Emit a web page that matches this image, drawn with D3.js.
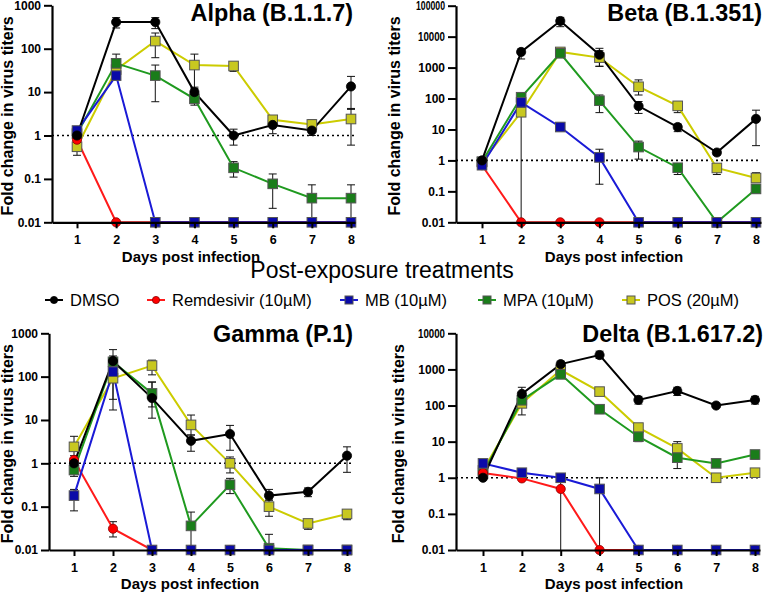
<!DOCTYPE html>
<html><head><meta charset="utf-8">
<script src="https://cdn.jsdelivr.net/npm/d3@7"></script>
<style>body{margin:0;background:#fff}svg{display:block}</style>
</head><body>
<script>
// ---------- DATA ----------
const days = [1,2,3,4,5,6,7,8];
const seriesNames = ["DMSO","Remdesivir (10µM)","MB (10µM)","MPA (10µM)","POS (20µM)"];
const panelTitles = ["Alpha (B.1.1.7)","Beta (B.1.351)","Gamma (P.1)","Delta (B.1.617.2)"];
const yTicksAlpha = [0.01,0.1,1,10,100,1000];
const yTicksBeta  = [0.01,0.1,1,10,100,1000,10000,100000];
const yTicksGamma = [0.01,0.1,1,10,100,1000];
const yTicksDelta = [0.01,0.1,1,10,100,1000,10000];

// Alpha
const alphaDMSO   = [1.0, 410, 410, 10, 1.0, 1.75, 1.3, 13.5];
const alphaDMSOHi = [1.2, 520, 520, 13, 1.4, 2.5, 1.6, 23];
const alphaDMSOLo = [0.85, 300, 290, 7.5, 0.6, 1.1, 1.0, 4.0];
const alphaREM    = [0.8, 0.01, 0.01, 0.01, 0.01, 0.01, 0.01, 0.01];
const alphaMB     = [1.3, 24, 0.01, 0.01, 0.01, 0.01, 0.01, 0.01];
const alphaMBHi   = [1.5, 28, null, null, null, null, null, null];
const alphaMBLo   = [1.1, 20, null, null, null, null, null, null];
const alphaMPA    = [1.1, 46, 24, 7, 0.18, 0.077, 0.036, 0.036];
const alphaMPAHi  = [1.2, 75, 42, 9, 0.25, 0.13, 0.073, 0.073];
const alphaMPALo  = [1.0, 30, 6, 5, 0.11, 0.021, 0.005, 0.005];
const alphaPOS    = [0.55, 33, 150, 42, 40, 2.3, 1.8, 2.4];
const alphaPOSHi  = [0.7, 45, 230, 75, 45, 2.6, 2.3, 4.2];
const alphaPOSLo  = [0.35, 25, 62, 12, 30, 2.0, 1.4, 0.6];

// Beta
const betaDMSO   = [1.0, 3200, 32000, 2600, 57, 12, 1.8, 22];
const betaDMSOHi = [1.2, 4000, 42000, 4200, 80, 15, 2.1, 42];
const betaDMSOLo = [0.85, 1900, 21000, 1100, 33, 8.5, 1.5, 3];
const betaREM    = [0.7, 0.01, 0.01, 0.01, 0.01, 0.01, 0.01, 0.01];
const betaMB     = [0.7, 75, 12, 1.25, 0.01, 0.01, 0.01, 0.01];
const betaMBHi   = [0.8, 90, 14, 2.3, null, null, null, null];
const betaMBLo   = [0.6, 60, 10, 0.17, null, null, null, null];
const betaMPA    = [0.9, 110, 2900, 85, 2.7, 0.58, 0.01, 0.12];
const betaMPAHi  = [1.0, 140, 3500, 130, 4.2, 0.75, null, 0.16];
const betaMPALo  = [0.8, 80, 2300, 35, 1.1, 0.35, null, 0.09];
const betaPOS    = [0.9, 36, 3200, 2100, 240, 58, 0.57, 0.27];
const betaPOSHi  = [1.0, 120, 3600, 3500, 400, 75, 0.75, 0.4];
const betaPOSLo  = [0.8, 0.005, 2400, 1100, 130, 35, 0.35, 0.2];

// Gamma
const gammaDMSO   = [1.0, 230, 32, 3.3, 4.75, 0.18, 0.22, 1.5];
const gammaDMSOHi = [1.2, 420, 75, 4.5, 7.5, 0.25, 0.27, 2.4];
const gammaDMSOLo = [0.8, 130, 11, 1.9, 2.0, 0.15, 0.17, 0.62];
const gammaREM    = [1.2, 0.031, 0.01, 0.01, 0.01, 0.01, 0.01, 0.01];
const gammaREMHi  = [1.3, 0.045, null, null, null, null, null, null];
const gammaREMLo  = [1.1, 0.02, null, null, null, null, null, null];
const gammaMB     = [0.18, 130, 0.01, 0.01, 0.01, 0.01, 0.01, 0.01];
const gammaMBHi   = [0.25, 160, null, null, null, null, null, null];
const gammaMBLo   = [0.08, 30, null, null, null, null, null, null];
const gammaMPA    = [0.7, 220, 41, 0.036, 0.32, 0.011, 0.01, 0.01];
const gammaMPAHi  = [1.0, 300, 75, 0.075, 0.45, 0.023, null, null];
const gammaMPALo  = [0.5, 150, 20, 0.005, 0.2, 0.005, null, null];
const gammaPOS    = [2.4, 92, 180, 7.7, 1.0, 0.1, 0.041, 0.068];
const gammaPOSHi  = [4.2, 120, 240, 13, 1.4, 0.14, 0.05, 0.08];
const gammaPOSLo  = [1.5, 17, 110, 4.5, 0.6, 0.06, 0.03, 0.05];

// Delta
const deltaDMSO   = [1.0, 210, 1400, 2500, 143, 253, 100, 143];
const deltaDMSOHi = [1.1, 320, 1700, 3200, 180, 320, 110, 180];
const deltaDMSOLo = [0.9, 130, 1150, 2000, 110, 190, 90, 110];
const deltaREM    = [1.35, 0.96, 0.49, 0.01, 0.01, 0.01, 0.01, 0.01];
const deltaREMHi  = [1.5, 1.05, 1.0, null, null, null, null, null];
const deltaREMLo  = [1.2, 0.9, 0.005, null, null, null, null, null];
const deltaMB     = [2.5, 1.38, 1.0, 0.49, 0.01, 0.01, 0.01, 0.01];
const deltaMBHi   = [2.8, 1.5, 1.1, 1.0, null, null, null, null];
const deltaMBLo   = [2.2, 1.25, 0.9, 0.005, null, null, null, null];
const deltaMPA    = [1.3, 140, 730, 79, 13.7, 3.6, 2.5, 4.4];
const deltaMPAHi  = [1.5, 170, 900, 100, 18, 5.5, 3.0, 5.5];
const deltaMPALo  = [1.1, 110, 600, 60, 10, 1.8, 2.0, 3.3];
const deltaPOS    = [1.6, 115, 960, 243, 24.5, 6.5, 1.0, 1.38];
const deltaPOSHi  = [1.8, 200, 1100, 300, 30, 10, 1.2, 1.7];
const deltaPOSLo  = [1.4, 55, 800, 190, 18, 4, 0.9, 1.2];

// ---------- STYLE ----------
const FONT = "'Liberation Sans', Arial, Helvetica, sans-serif";
const styles = [
  {line:"#000000", fill:"#000000", stroke:"#000000", shape:"circle"},
  {line:"#ff1a1a", fill:"#ff0000", stroke:"#8a0000", shape:"circle"},
  {line:"#1a1ad6", fill:"#0a0aa8", stroke:"#555555", shape:"square"},
  {line:"#1f9a1f", fill:"#1a7d1a", stroke:"#555555", shape:"square"},
  {line:"#cccc00", fill:"#c8c820", stroke:"#555555", shape:"square"}
];

function mk(v, hi, lo) { return {v, hi: hi || null, lo: lo || null}; }
const panels = [
  {title: panelTitles[0], ticks: yTicksAlpha, x0:52, x1:355, d1:77, d8:351, yTop:5.3, yBot:222.3,
   tickLabelY:244, xLabelY:262, xLabelX:191, yLabelX:13, titleRight:353, titleY:21,
   series:[mk(alphaDMSO,alphaDMSOHi,alphaDMSOLo), mk(alphaREM), mk(alphaMB,alphaMBHi,alphaMBLo), mk(alphaMPA,alphaMPAHi,alphaMPALo), mk(alphaPOS,alphaPOSHi,alphaPOSLo)]},
  {title: panelTitles[1], ticks: yTicksBeta, x0:456, x1:761, d1:482, d8:756, yTop:5.7, yBot:222.3,
   tickLabelY:244, xLabelY:262, xLabelX:614, yLabelX:400, titleRight:762, titleY:21,
   series:[mk(betaDMSO,betaDMSOHi,betaDMSOLo), mk(betaREM), mk(betaMB,betaMBHi,betaMBLo), mk(betaMPA,betaMPAHi,betaMPALo), mk(betaPOS,betaPOSHi,betaPOSLo)]},
  {title: panelTitles[2], ticks: yTicksGamma, x0:49, x1:351, d1:74, d8:347, yTop:333.3, yBot:550,
   tickLabelY:572, xLabelY:589, xLabelX:190, yLabelX:13, titleRight:353, titleY:342,
   series:[mk(gammaDMSO,gammaDMSOHi,gammaDMSOLo), mk(gammaREM,gammaREMHi,gammaREMLo), mk(gammaMB,gammaMBHi,gammaMBLo), mk(gammaMPA,gammaMPAHi,gammaMPALo), mk(gammaPOS,gammaPOSHi,gammaPOSLo)]},
  {title: panelTitles[3], ticks: yTicksDelta, x0:456, x1:760, d1:483, d8:755, yTop:333.3, yBot:550,
   tickLabelY:572, xLabelY:589, xLabelX:614, yLabelX:404, titleRight:763, titleY:342,
   series:[mk(deltaDMSO,deltaDMSOHi,deltaDMSOLo), mk(deltaREM,deltaREMHi,deltaREMLo), mk(deltaMB,deltaMBHi,deltaMBLo), mk(deltaMPA,deltaMPAHi,deltaMPALo), mk(deltaPOS,deltaPOSHi,deltaPOSLo)]}
];

const W = 764, H = 593;
const svg = d3.select("body").append("svg").attr("width", W).attr("height", H)
  .style("font-family", FONT);

function fmt(t){ return String(t); }

const drawOrder = [4,3,1,2,0];

panels.forEach(p => {
  const g = svg.append("g");
  const step = (p.d8 - p.d1) / 7;
  const x = d3.scaleLinear().domain([1 - (p.d1 - p.x0)/step, 8 + (p.x1 - p.d8)/step]).range([p.x0, p.x1]);
  const ymin = 0.01, ymax = p.ticks[p.ticks.length-1];
  const y = d3.scaleLog().domain([ymin, ymax]).range([p.yBot, p.yTop]);
  const yc = v => y(Math.max(ymin, Math.min(ymax, v)));

  // dotted reference line at 1
  g.append("line").attr("x1", p.x0).attr("x2", p.x1).attr("y1", y(1)).attr("y2", y(1))
    .attr("stroke", "#000").attr("stroke-width", 1.6).attr("stroke-dasharray", "2,3");

  // error bars
  drawOrder.forEach(si => {
    const s = p.series[si];
    if (!s.hi) return;
    days.forEach((d, i) => {
      const hi = s.hi[i], lo = s.lo[i];
      if (hi == null || lo == null) return;
      const cx = x(d);
      g.append("line").attr("x1", cx).attr("x2", cx).attr("y1", yc(hi)).attr("y2", yc(lo))
        .attr("stroke", "#111").attr("stroke-width", 1);
      g.append("line").attr("x1", cx-4).attr("x2", cx+4).attr("y1", yc(hi)).attr("y2", yc(hi))
        .attr("stroke", "#111").attr("stroke-width", 1);
      if (lo > ymin) g.append("line").attr("x1", cx-4).attr("x2", cx+4).attr("y1", yc(lo)).attr("y2", yc(lo))
        .attr("stroke", "#111").attr("stroke-width", 1);
    });
  });

  // lines
  const lineGen = d3.line().x((v,i) => x(days[i])).y(v => yc(v));
  drawOrder.forEach(si => {
    g.append("path").attr("d", lineGen(p.series[si].v)).attr("fill", "none")
      .attr("stroke", styles[si].line).attr("stroke-width", 2);
  });

  // markers
  drawOrder.forEach(si => {
    const st = styles[si];
    p.series[si].v.forEach((v, i) => {
      const cx = x(days[i]), cy = yc(v);
      if (st.shape === "circle") {
        g.append("circle").attr("cx", cx).attr("cy", cy).attr("r", 4.6)
          .attr("fill", st.fill).attr("stroke", st.stroke).attr("stroke-width", 0.8);
      } else {
        g.append("rect").attr("x", cx-4.8).attr("y", cy-4.8).attr("width", 9.6).attr("height", 9.6)
          .attr("fill", st.fill).attr("stroke", st.stroke).attr("stroke-width", 1);
      }
    });
  });

  // axes
  const xAxis = d3.axisBottom(x).tickValues(days).tickSize(6).tickSizeOuter(0).tickFormat(d3.format("d"));
  const xg = g.append("g").attr("transform", `translate(0,${p.yBot})`).call(xAxis);
  xg.select(".domain").attr("stroke", "#000").attr("stroke-width", 2.2);
  xg.selectAll(".tick line").attr("stroke", "#000").attr("stroke-width", 2);
  xg.selectAll(".tick text").attr("font-family", FONT).attr("font-size", 12.5).attr("font-weight", "bold")
    .attr("fill", "#000").attr("y", null).attr("dy", null)
    .attr("transform", `translate(0,${p.tickLabelY - p.yBot})`);

  const yAxis = d3.axisLeft(y).tickValues(p.ticks).tickSize(8).tickSizeOuter(0).tickFormat(fmt);
  const yg = g.append("g").attr("transform", `translate(${p.x0},0)`).call(yAxis);
  yg.select(".domain").attr("stroke", "#000").attr("stroke-width", 2.2);
  yg.selectAll(".tick line").attr("stroke", "#000").attr("stroke-width", 2);
  yg.selectAll(".tick text").attr("font-family", FONT).attr("font-size", 12).attr("font-weight", "bold")
    .attr("fill", "#000").attr("x", -11)
    .each(function(t){
      const s = String(t);
      if (s.length >= 5) d3.select(this).attr("textLength", s.length >= 6 ? 29 : 27).attr("lengthAdjust", "spacingAndGlyphs");
    });

  // axis titles
  g.append("text").attr("x", p.xLabelX).attr("y", p.xLabelY).attr("text-anchor", "middle")
    .attr("font-size", 15).attr("font-weight", "bold").text("Days post infection");
  g.append("text").attr("transform", `translate(${p.yLabelX},${(p.yTop + p.yBot)/2 + 2}) rotate(-90)`)
    .attr("text-anchor", "middle").attr("font-size", 16).attr("font-weight", "bold")
    .text("Fold change in virus titers");

  // panel title
  g.append("text").attr("x", p.titleRight).attr("y", p.titleY).attr("text-anchor", "end")
    .attr("font-size", 23.4).attr("font-weight", "bold").text(p.title);
});

// central heading and legend
svg.append("text").attr("x", 382).attr("y", 278).attr("text-anchor", "middle")
  .attr("font-size", 23).text("Post-exposure treatments");

const legendX = [45, 147, 340, 478, 622];
const leg = svg.append("g");
seriesNames.forEach((name, i) => {
  const st = styles[i];
  const lx = legendX[i], ly = 300;
  leg.append("line").attr("x1", lx).attr("x2", lx + 18).attr("y1", ly).attr("y2", ly)
    .attr("stroke", st.line).attr("stroke-width", 2);
  if (st.shape === "circle") {
    leg.append("circle").attr("cx", lx + 9).attr("cy", ly).attr("r", 3.6)
      .attr("fill", st.fill).attr("stroke", st.stroke).attr("stroke-width", 0.8);
  } else {
    leg.append("rect").attr("x", lx + 5).attr("y", ly - 4).attr("width", 8).attr("height", 8)
      .attr("fill", st.fill).attr("stroke", st.stroke).attr("stroke-width", 1);
  }
  leg.append("text").attr("x", lx + 25).attr("y", ly + 6).attr("font-size", 16.5).text(name);
});
</script>
</body></html>
